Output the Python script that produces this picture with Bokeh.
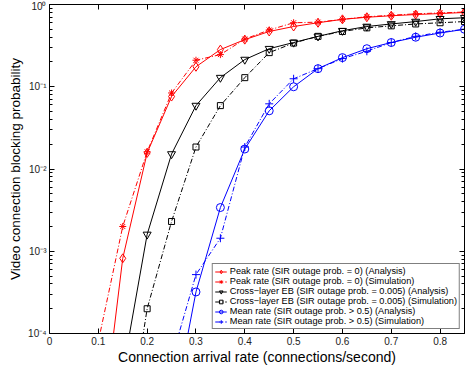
from bokeh.plotting import figure
from bokeh.models import (Range1d, LinearAxis, LogAxis, FixedTicker,
                          CustomJSTickFormatter, Legend, LegendItem)
from bokeh.embed import file_html
from bokeh.resources import INLINE

# ---------------- data ----------------
x_peak_ana = [0.10, 0.15, 0.20, 0.25, 0.30, 0.35, 0.40, 0.45, 0.50, 0.55, 0.60, 0.65, 0.70, 0.75, 0.80, 0.85]
y_peak_ana = [3e-6, 8.2e-4, 0.0157, 0.076, 0.175, 0.283, 0.374, 0.47, 0.54, 0.60, 0.66, 0.70, 0.73, 0.755, 0.776, 0.80]

x_peak_sim = [0.10, 0.15, 0.20, 0.25, 0.30, 0.35, 0.40, 0.45, 0.50, 0.55, 0.60, 0.65, 0.70, 0.75, 0.80, 0.85]
y_peak_sim = [8e-5, 2.0e-3, 0.0162, 0.084, 0.21, 0.246, 0.38, 0.49, 0.60, 0.61, 0.66, 0.71, 0.74, 0.77, 0.79, 0.81]

x_cl_ana = [0.15, 0.20, 0.25, 0.30, 0.35, 0.40, 0.45, 0.50, 0.55, 0.60, 0.65, 0.70, 0.75, 0.80, 0.85]
y_cl_ana = [3.4e-5, 1.6e-3, 0.0152, 0.059, 0.129, 0.214, 0.29, 0.345, 0.41, 0.48, 0.54, 0.58, 0.62, 0.67, 0.69]

x_cl_sim = [0.15, 0.20, 0.25, 0.30, 0.35, 0.40, 0.45, 0.50, 0.55, 0.60, 0.65, 0.70, 0.75, 0.80, 0.85]
y_cl_sim = [2.5e-6, 2.0e-4, 2.3e-3, 0.0185, 0.059, 0.129, 0.26, 0.34, 0.41, 0.47, 0.52, 0.55, 0.58, 0.60, 0.62]

x_mean_ana = [0.25, 0.30, 0.35, 0.40, 0.45, 0.50, 0.55, 0.60, 0.65, 0.70, 0.75, 0.80, 0.85]
y_mean_ana = [9e-6, 3.2e-4, 3.4e-3, 0.0175, 0.051, 0.10, 0.166, 0.226, 0.29, 0.345, 0.40, 0.45, 0.50]

x_mean_sim = [0.25, 0.30, 0.35, 0.40, 0.45, 0.50, 0.55, 0.60, 0.65, 0.70, 0.75, 0.80, 0.85]
y_mean_sim = [4.9e-5, 5.2e-4, 1.44e-3, 0.0185, 0.062, 0.125, 0.166, 0.22, 0.27, 0.345, 0.41, 0.46, 0.50]

x_ticks = [0, 0.1, 0.2, 0.3, 0.4, 0.5, 0.6, 0.7, 0.8]
y_ticks = [1e-4, 1e-3, 1e-2, 1e-1, 1e0]

labels = [
    "Peak rate (SIR outage prob. = 0) (Analysis)",
    "Peak rate (SIR outage prob. = 0) (Simulation)",
    "Cross\u2212layer EB (SIR outage prob. = 0.005) (Analysis)",
    "Cross\u2212layer EB (SIR outage prob. = 0.005) (Simulation)",
    "Mean rate (SIR outage prob. > 0.5) (Analysis)",
    "Mean rate (SIR outage prob. > 0.5) (Simulation)",
]

FONT = "Liberation Sans"

p = figure(width=465, height=367, output_backend="svg", toolbar_location=None,
           y_axis_type="log", x_range=Range1d(0, 0.85), y_range=Range1d(1e-4, 1),
           min_border_top=4, min_border_right=1, min_border_left=49, min_border_bottom=0)
p.background_fill_color = "white"
p.border_fill_color = "white"
p.outline_line_color = "black"
p.outline_line_width = 1
p.grid.visible = False

minor_y = [m * 10.0 ** e for e in range(-4, 0) for m in range(2, 10)]
sup = CustomJSTickFormatter(code="""
const m = {'-':'\u207b','0':'\u2070','1':'\u00b9','2':'\u00b2','3':'\u00b3','4':'\u2074','5':'\u2075'};
const e = Math.round(Math.log10(tick));
return '10' + String(e).split('').map(c => m[c]).join('');
""")
blank = CustomJSTickFormatter(code="return '';")

def style_axis(ax):
    ax.axis_line_color = "black"
    ax.major_tick_in = 5
    ax.major_tick_out = 0
    ax.minor_tick_in = 3
    ax.minor_tick_out = 0
    ax.major_tick_line_color = "black"
    ax.minor_tick_line_color = "black"
    ax.major_label_text_font = FONT
    ax.major_label_text_font_size = "10px"
    ax.major_label_text_color = "#222222"
    ax.axis_label_text_font = FONT
    ax.axis_label_text_font_size = "14px"
    ax.axis_label_text_font_style = "normal"
    ax.axis_label_text_color = "black"

xa = p.xaxis[0]
xa.ticker = FixedTicker(ticks=x_ticks)
style_axis(xa)
xa.minor_tick_line_color = None
xa.major_label_standoff = 3
xa.axis_label = "Connection arrival rate (connections/second)"
xa.axis_label_standoff = 1

ya = p.yaxis[0]
ya.ticker = FixedTicker(ticks=y_ticks, minor_ticks=minor_y)
ya.formatter = sup
style_axis(ya)
ya.major_label_standoff = 3
ya.axis_label = "Video connection blocking probability"
ya.axis_label_text_font_size = "13.5px"
ya.axis_label_standoff = 2

top = LinearAxis(ticker=FixedTicker(ticks=x_ticks), formatter=blank)
style_axis(top)
top.minor_tick_line_color = None
top.major_label_text_font_size = "0px"
top.major_label_standoff = 0
p.add_layout(top, "above")

right = LogAxis(ticker=FixedTicker(ticks=y_ticks, minor_ticks=minor_y), formatter=blank)
style_axis(right)
right.major_label_text_font_size = "0px"
right.major_label_standoff = 0
p.add_layout(right, "right")

DD = "5 2 1 2"
series = [
    (x_peak_ana, y_peak_ana, "red", "solid", "diamond", 9),
    (x_peak_sim, y_peak_sim, "red", DD, "asterisk", 7),
    (x_cl_ana, y_cl_ana, "black", "solid", "inverted_triangle", 8),
    (x_cl_sim, y_cl_sim, "black", DD, "square", 6),
    (x_mean_ana, y_mean_ana, "blue", "solid", "circle", 8),
    (x_mean_sim, y_mean_sim, "blue", DD, "cross", 8),
]

items = []
for (xs, ys, col, dash, mk, sz), lab in zip(series, labels):
    ln = p.line(xs, ys, line_color=col, line_width=1, line_dash=dash)
    sc = p.scatter(xs, ys, marker=mk, size=sz, line_color=col, fill_color=None, line_width=1)
    items.append(LegendItem(label=lab, renderers=[ln, sc]))

leg = Legend(items=items, location="bottom_right")
leg.label_text_font = FONT
leg.label_text_font_size = "9.2px"
leg.label_text_color = "black"
leg.label_height = 9
leg.glyph_height = 9
leg.glyph_width = 12
leg.label_standoff = 3
leg.spacing = 0
leg.padding = 2
leg.margin = 4
leg.border_line_color = "black"
leg.border_line_width = 1
leg.background_fill_color = "white"
leg.background_fill_alpha = 1
p.add_layout(leg)

open("out.html", "w").write(file_html(p, INLINE))
